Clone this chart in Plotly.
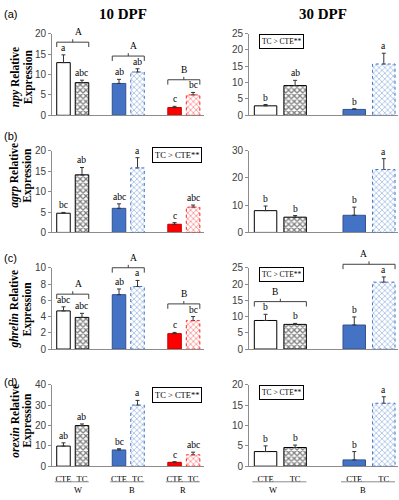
import plotly.graph_objects as go

W_PX, H_PX = 399, 500

# ---------------- data ----------------
groups_10dpf = ["W", "B", "R"]
groups_30dpf = ["W", "B"]
treatments = ["CTE", "TC"]

npy_10dpf_mean = [12.9, 8.0, 7.8, 10.6, 1.9, 5.0]
npy_10dpf_err = [1.9, 0.6, 1.0, 0.8, 0.3, 0.6]
npy_10dpf_letters = ["a", "abc", "ab", "ab", "c", "bc"]
npy_30dpf_mean = [2.9, 9.1, 1.8, 15.7]
npy_30dpf_err = [0.4, 1.6, 0.2, 3.3]
npy_30dpf_letters = ["b", "ab", "b", "a"]

agrp_10dpf_mean = [4.7, 14.1, 5.9, 15.8, 2.0, 6.2]
agrp_10dpf_err = [0.2, 1.8, 1.1, 2.5, 0.4, 0.5]
agrp_10dpf_letters = ["bc", "ab", "abc", "a", "c", "abc"]
agrp_30dpf_mean = [8.0, 5.6, 6.3, 23.1]
agrp_30dpf_err = [1.7, 0.6, 3.0, 4.0]
agrp_30dpf_letters = ["b", "b", "b", "a"]

ghrelin_10dpf_mean = [4.7, 3.9, 6.7, 7.7, 1.9, 3.5]
ghrelin_10dpf_err = [0.5, 0.5, 0.7, 0.75, 0.15, 0.5]
ghrelin_10dpf_letters = ["abc", "abc", "ab", "a", "c", "bc"]
ghrelin_30dpf_mean = [8.8, 7.6, 7.4, 20.6]
ghrelin_30dpf_err = [1.9, 0.3, 2.5, 1.6]
ghrelin_30dpf_letters = ["b", "b", "b", "a"]

orexin_10dpf_mean = [9.9, 20.0, 8.0, 30.1, 1.9, 5.6]
orexin_10dpf_err = [1.6, 0.8, 0.6, 2.3, 0.3, 1.3]
orexin_10dpf_letters = ["ab", "ab", "bc", "a", "c", "abc"]
orexin_30dpf_mean = [3.6, 4.6, 1.55, 15.5]
orexin_30dpf_err = [1.4, 0.6, 2.05, 1.6]
orexin_30dpf_letters = ["b", "b", "b", "a"]

npy_10dpf_brackets = [("W", "A"), ("B", "A"), ("R", "B")]
ghrelin_10dpf_brackets = [("W", "A"), ("B", "A"), ("R", "B")]
ghrelin_30dpf_brackets = [("W", "B"), ("B", "A")]

effect_text = "TC > CTE**"
panel_labels = ["(a)", "(b)", "(c)", "(d)"]
column_titles = ["10 DPF", "30 DPF"]

# ---------------- layout geometry (pixels) ----------------
col_px = [(52, 204), (249, 398)]
row_px = [(28.3, 112), (148.3, 232), (268.3, 351.5), (388.3, 471.5)]
col_xrange = [(-0.62, 7.59), (-0.56, 4.48)]
col_barwidth = [0.73, 0.76]
title_center_px = [73, 174, 311, 425]

SERIF = "Liberation Serif, Times New Roman, serif"
SANS = "Liberation Sans, Arial, sans-serif"

styles = {
    ("W", "CTE"): dict(fill="white", line="black", pattern=None, sol=0, dash=None),
    ("W", "TC"): dict(fill="white", line="black", pattern="black", sol=0.55, dash=None),
    ("B", "CTE"): dict(fill="#4472C4", line="#2F528F", pattern=None, sol=0, dash=None),
    ("B", "TC"): dict(fill="white", line="#4472C4", pattern="#5B8FD0", sol=0.4, dash="dot"),
    ("R", "CTE"): dict(fill="#FF0000", line="#C00000", pattern=None, sol=0, dash=None),
    ("R", "TC"): dict(fill="white", line="#FF2020", pattern="#FF3030", sol=0.4, dash="dot"),
}

panels = [
    dict(row=0, col=0, gene="npy", groups=groups_10dpf, mean=npy_10dpf_mean, err=npy_10dpf_err,
         letters=npy_10dpf_letters, ymax=20, dtick=5, brackets=npy_10dpf_brackets, box=None),
    dict(row=0, col=1, gene="npy", groups=groups_30dpf, mean=npy_30dpf_mean, err=npy_30dpf_err,
         letters=npy_30dpf_letters, ymax=25, dtick=5, brackets=[], box=(281, 36, 7.5)),
    dict(row=1, col=0, gene="agrp", groups=groups_10dpf, mean=agrp_10dpf_mean, err=agrp_10dpf_err,
         letters=agrp_10dpf_letters, ymax=20, dtick=5, brackets=[], box=(176.5, 152.5, 8.5)),
    dict(row=1, col=1, gene="agrp", groups=groups_30dpf, mean=agrp_30dpf_mean, err=agrp_30dpf_err,
         letters=agrp_30dpf_letters, ymax=30, dtick=10, brackets=[], box=None),
    dict(row=2, col=0, gene="ghrelin", groups=groups_10dpf, mean=ghrelin_10dpf_mean, err=ghrelin_10dpf_err,
         letters=ghrelin_10dpf_letters, ymax=10, dtick=2, brackets=ghrelin_10dpf_brackets, box=None),
    dict(row=2, col=1, gene="ghrelin", groups=groups_30dpf, mean=ghrelin_30dpf_mean, err=ghrelin_30dpf_err,
         letters=ghrelin_30dpf_letters, ymax=25, dtick=5, brackets=ghrelin_30dpf_brackets, box=(281, 275, 7.5)),
    dict(row=3, col=0, gene="orexin", groups=groups_10dpf, mean=orexin_10dpf_mean, err=orexin_10dpf_err,
         letters=orexin_10dpf_letters, ymax=40, dtick=10, brackets=[], box=(176.5, 399, 8.5)),
    dict(row=3, col=1, gene="orexin", groups=groups_30dpf, mean=orexin_30dpf_mean, err=orexin_30dpf_err,
         letters=orexin_30dpf_letters, ymax=20, dtick=5, brackets=[], box=(281, 396.5, 7.5)),
]


def px_x(x):
    return x / W_PX


def px_y(y):
    return 1 - y / H_PX


fig = go.Figure()
shapes = []
annotations = []
layout_axes = {}

for i, p in enumerate(panels):
    n = i + 1
    xs = "x" if n == 1 else f"x{n}"
    ys = "y" if n == 1 else f"y{n}"
    r, c = p["row"], p["col"]
    cx0, cx1 = col_px[c]
    ry0, ry1 = row_px[r]
    lo, hi = col_xrange[c]
    bw = col_barwidth[c]

    def to_px_x(v, lo=lo, hi=hi, cx0=cx0, cx1=cx1):
        return cx0 + (v - lo) / (hi - lo) * (cx1 - cx0)

    def to_px_y(v, ry0=ry0, ry1=ry1, ymax=p["ymax"]):
        return ry1 - v / ymax * (ry1 - ry0)

    positions = []
    k = 0
    for g_i, g in enumerate(p["groups"]):
        for t_i, t in enumerate(treatments):
            pos = 3 * g_i + t_i
            positions.append(pos)
            st = styles[(g, t)]
            marker = dict(color=st["fill"],
                          line=dict(color=st["line"], width=0 if st["dash"] else 1))
            if st["pattern"]:
                marker["pattern"] = dict(shape="x", fgcolor=st["pattern"], bgcolor="white",
                                         size=4, solidity=st["sol"], fillmode="overlay")
            fig.add_trace(go.Bar(
                x=[pos], y=[p["mean"][k]], width=bw, marker=marker,
                error_y=dict(type="data", symmetric=False, array=[p["err"][k]], arrayminus=[0],
                             color="#333333", thickness=1, width=2),
                xaxis=xs, yaxis=ys, showlegend=False, hoverinfo="skip"))
            if st["dash"]:
                shapes.append(dict(type="rect", xref=xs, yref=ys, x0=pos - bw / 2, x1=pos + bw / 2,
                                   y0=0, y1=p["mean"][k],
                                   line=dict(color=st["line"], width=1, dash=st["dash"])))
            annotations.append(dict(
                x=pos, y=p["mean"][k] + p["err"][k], xref=xs, yref=ys, text=p["letters"][k],
                showarrow=False, yanchor="bottom", yshift=0,
                font=dict(family=SERIF, size=9.5, color="black")))
            k += 1

    # axes
    xa = dict(domain=[px_x(cx0), px_x(cx1)], range=[lo, hi], anchor=ys, showline=True,
              linecolor="#8C8C8C", linewidth=1, showgrid=False, zeroline=False, ticks="",
              showticklabels=False, fixedrange=True)
    if r == 3:
        xa.update(showticklabels=True, tickvals=positions,
                  ticktext=[t for _ in p["groups"] for t in treatments], ticklabelstandoff=5,
                  tickfont=dict(family=SERIF, size=8.5, color="black"))
    ya = dict(domain=[px_y(ry1), px_y(ry0)], range=[0, p["ymax"]], anchor=xs, showline=True,
              linecolor="#8C8C8C", linewidth=1, showgrid=False, zeroline=False, ticks="outside",
              ticklen=3, tickcolor="#8C8C8C", tickvals=list(range(0, p["ymax"] + 1, p["dtick"])),
              tickfont=dict(family=SANS, size=10, color="#404040"), fixedrange=True)
    layout_axes["xaxis" if n == 1 else f"xaxis{n}"] = xa
    layout_axes["yaxis" if n == 1 else f"yaxis{n}"] = ya

    # brackets
    for g, lab in p["brackets"]:
        g_i = p["groups"].index(g)
        k0, k1 = 2 * g_i, 2 * g_i + 1
        top = max(p["mean"][k0] + p["err"][k0], p["mean"][k1] + p["err"][k1])
        yb = to_px_y(top) - 13
        xa0 = to_px_x(positions[k0] - bw / 2)
        xa1 = to_px_x(positions[k1] + bw / 2)
        xm = (xa0 + xa1) / 2
        lc = dict(color="#404040", width=1)
        shapes.append(dict(type="line", xref="paper", yref="paper", x0=px_x(xa0), x1=px_x(xa1),
                           y0=px_y(yb), y1=px_y(yb), line=lc))
        for xe in (xa0, xa1):
            shapes.append(dict(type="line", xref="paper", yref="paper", x0=px_x(xe), x1=px_x(xe),
                               y0=px_y(yb), y1=px_y(yb + 5), line=lc))
        shapes.append(dict(type="line", xref="paper", yref="paper", x0=px_x(xm), x1=px_x(xm),
                           y0=px_y(yb), y1=px_y(yb - 3), line=lc))
        annotations.append(dict(x=px_x(xm), y=px_y(yb - 3), xref="paper", yref="paper", text=lab,
                                showarrow=False, yanchor="bottom",
                                font=dict(family=SERIF, size=9.5, color="black")))

    # effect box
    if p["box"]:
        bx, by, bs = p["box"]
        annotations.append(dict(x=px_x(bx), y=px_y(by), xref="paper", yref="paper", text=effect_text,
                                showarrow=False, xanchor="center", yanchor="middle",
                                bordercolor="black", borderwidth=1, borderpad=2, bgcolor="white",
                                font=dict(family=SERIF, size=bs, color="black")))

    # group underline and labels for bottom row
    if r == 3:
        for g_i, g in enumerate(p["groups"]):
            k0, k1 = 2 * g_i, 2 * g_i + 1
            xa0 = to_px_x(positions[k0] - bw / 2) - 2
            xa1 = to_px_x(positions[k1] + bw / 2)
            shapes.append(dict(type="line", xref="paper", yref="paper", x0=px_x(xa0), x1=px_x(xa1),
                               y0=px_y(487.5), y1=px_y(487.5), line=dict(color="#8C8C8C", width=1)))
            annotations.append(dict(x=px_x((xa0 + xa1) / 2), y=px_y(495.5), xref="paper", yref="paper",
                                    text=g, showarrow=False, yanchor="middle",
                                    font=dict(family=SERIF, size=8.5, color="black")))

# y titles
for r in range(4):
    gene = panels[2 * r]["gene"]
    yc = title_center_px[r]
    annotations.append(dict(x=px_x(15), y=px_y(yc), xref="paper", yref="paper",
                            text=f"<b><i>{gene}</i> Relative</b>", textangle=-90, showarrow=False,
                            xanchor="center", yanchor="middle",
                            font=dict(family=SERIF, size=11.5, color="black")))
    annotations.append(dict(x=px_x(28), y=px_y(yc), xref="paper", yref="paper",
                            text="<b>Expression</b>", textangle=-90, showarrow=False,
                            xanchor="center", yanchor="middle",
                            font=dict(family=SERIF, size=11.5, color="black")))

# panel labels
for lab, yc in zip(panel_labels, [8, 133, 258, 385]):
    annotations.append(dict(x=px_x(2), y=px_y(yc), xref="paper", yref="paper", text=lab,
                            showarrow=False, xanchor="left", yanchor="middle",
                            font=dict(family=SANS, size=11, color="black")))

# column titles
for t, xc in zip(column_titles, [123, 323]):
    annotations.append(dict(x=px_x(xc), y=px_y(8), xref="paper", yref="paper", text=f"<b>{t}</b>",
                            showarrow=False, xanchor="center", yanchor="middle",
                            font=dict(family=SERIF, size=15, color="black")))

fig.update_layout(
    width=W_PX, height=H_PX, margin=dict(l=0, r=0, t=0, b=0),
    paper_bgcolor="white", plot_bgcolor="white", barmode="overlay",
    shapes=shapes, annotations=annotations, showlegend=False, **layout_axes)

fig.write_html("out.html", config={"displayModeBar": False},
               post_script="document.body.style.margin='0';document.body.style.overflow='hidden';")
